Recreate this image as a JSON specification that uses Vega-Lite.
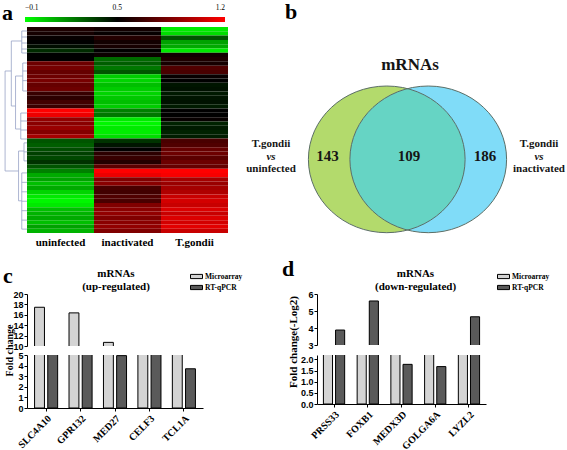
{
  "$schema": "https://vega.github.io/schema/vega-lite/v6.json",
  "padding": {"left": 2, "top": 0, "right": 0, "bottom": 0},
  "background": "white",
  "bounds": "flush",
  "columns": 2,
  "spacing": {"row": 9, "column": 89},
  "config": {
    "view": {"stroke": null},
    "font": "Liberation Serif",
    "axis": {"domainColor": "black", "domainWidth": 1, "tickColor": "black", "labelColor": "black", "titleColor": "black", "grid": false},
    "title": {"font": "Liberation Serif", "fontWeight": "bold", "color": "black"},
    "legend": {"padding": 0}
  },
  "resolve": {
    "scale": {"color": "independent", "fill": "independent", "shape": "independent", "xOffset": "independent"},
    "legend": {"color": "independent", "fill": "independent", "shape": "independent"}
  },
  "datasets": {
    "heat": [
      {"r":0,"g":"uninfected","v":0.58},{"r":0,"g":"inactivated","v":0.55},{"r":0,"g":"T.gondii","v":-0.05},
      {"r":1,"g":"uninfected","v":0.56},{"r":1,"g":"inactivated","v":0.52},{"r":1,"g":"T.gondii","v":-0.02},
      {"r":2,"g":"uninfected","v":0.52},{"r":2,"g":"inactivated","v":0.6},{"r":2,"g":"T.gondii","v":0.3},
      {"r":3,"g":"uninfected","v":0.5},{"r":3,"g":"inactivated","v":0.55},{"r":3,"g":"T.gondii","v":0.12},
      {"r":4,"g":"uninfected","v":0.47},{"r":4,"g":"inactivated","v":0.56},{"r":4,"g":"T.gondii","v":0.1},
      {"r":5,"g":"uninfected","v":0.4},{"r":5,"g":"inactivated","v":0.5},{"r":5,"g":"T.gondii","v":-0.05},
      {"r":6,"g":"uninfected","v":0.5},{"r":6,"g":"inactivated","v":0.53},{"r":6,"g":"T.gondii","v":0.55},
      {"r":7,"g":"uninfected","v":0.5},{"r":7,"g":"inactivated","v":0.25},{"r":7,"g":"T.gondii","v":0.58},
      {"r":8,"g":"uninfected","v":0.8},{"r":8,"g":"inactivated","v":0.28},{"r":8,"g":"T.gondii","v":0.56},
      {"r":9,"g":"uninfected","v":0.82},{"r":9,"g":"inactivated","v":0.22},{"r":9,"g":"T.gondii","v":0.72},
      {"r":10,"g":"uninfected","v":0.78},{"r":10,"g":"inactivated","v":0.3},{"r":10,"g":"T.gondii","v":0.7},
      {"r":11,"g":"uninfected","v":0.8},{"r":11,"g":"inactivated","v":0.02},{"r":11,"g":"T.gondii","v":0.52},
      {"r":12,"g":"uninfected","v":0.83},{"r":12,"g":"inactivated","v":0.0},{"r":12,"g":"T.gondii","v":0.5},
      {"r":13,"g":"uninfected","v":0.78},{"r":13,"g":"inactivated","v":0.05},{"r":13,"g":"T.gondii","v":0.45},
      {"r":14,"g":"uninfected","v":0.8},{"r":14,"g":"inactivated","v":0.02},{"r":14,"g":"T.gondii","v":0.46},
      {"r":15,"g":"uninfected","v":0.65},{"r":15,"g":"inactivated","v":0.0},{"r":15,"g":"T.gondii","v":0.44},
      {"r":16,"g":"uninfected","v":0.62},{"r":16,"g":"inactivated","v":0.03},{"r":16,"g":"T.gondii","v":0.45},
      {"r":17,"g":"uninfected","v":0.68},{"r":17,"g":"inactivated","v":0.05},{"r":17,"g":"T.gondii","v":0.46},
      {"r":18,"g":"uninfected","v":0.66},{"r":18,"g":"inactivated","v":0.02},{"r":18,"g":"T.gondii","v":0.44},
      {"r":19,"g":"uninfected","v":1.2},{"r":19,"g":"inactivated","v":0.2},{"r":19,"g":"T.gondii","v":0.5},
      {"r":20,"g":"uninfected","v":1.15},{"r":20,"g":"inactivated","v":0.22},{"r":20,"g":"T.gondii","v":0.5},
      {"r":21,"g":"uninfected","v":0.9},{"r":21,"g":"inactivated","v":-0.05},{"r":21,"g":"T.gondii","v":0.52},
      {"r":22,"g":"uninfected","v":0.88},{"r":22,"g":"inactivated","v":-0.08},{"r":22,"g":"T.gondii","v":0.42},
      {"r":23,"g":"uninfected","v":0.92},{"r":23,"g":"inactivated","v":-0.05},{"r":23,"g":"T.gondii","v":0.44},
      {"r":24,"g":"uninfected","v":0.86},{"r":24,"g":"inactivated","v":-0.06},{"r":24,"g":"T.gondii","v":0.42},
      {"r":25,"g":"uninfected","v":0.95},{"r":25,"g":"inactivated","v":-0.02},{"r":25,"g":"T.gondii","v":0.43},
      {"r":26,"g":"uninfected","v":0.3},{"r":26,"g":"inactivated","v":0.38},{"r":26,"g":"T.gondii","v":0.7},
      {"r":27,"g":"uninfected","v":0.28},{"r":27,"g":"inactivated","v":0.45},{"r":27,"g":"T.gondii","v":0.72},
      {"r":28,"g":"uninfected","v":0.32},{"r":28,"g":"inactivated","v":0.5},{"r":28,"g":"T.gondii","v":0.78},
      {"r":29,"g":"uninfected","v":0.35},{"r":29,"g":"inactivated","v":0.62},{"r":29,"g":"T.gondii","v":0.8},
      {"r":30,"g":"uninfected","v":0.33},{"r":30,"g":"inactivated","v":0.65},{"r":30,"g":"T.gondii","v":0.75},
      {"r":31,"g":"uninfected","v":0.38},{"r":31,"g":"inactivated","v":0.6},{"r":31,"g":"T.gondii","v":0.8},
      {"r":32,"g":"uninfected","v":0.3},{"r":32,"g":"inactivated","v":0.75},{"r":32,"g":"T.gondii","v":0.78},
      {"r":33,"g":"uninfected","v":0.2},{"r":33,"g":"inactivated","v":1.2},{"r":33,"g":"T.gondii","v":1.2},
      {"r":34,"g":"uninfected","v":0.1},{"r":34,"g":"inactivated","v":1.15},{"r":34,"g":"T.gondii","v":1.18},
      {"r":35,"g":"uninfected","v":0.12},{"r":35,"g":"inactivated","v":0.85},{"r":35,"g":"T.gondii","v":0.95},
      {"r":36,"g":"uninfected","v":0.05},{"r":36,"g":"inactivated","v":0.88},{"r":36,"g":"T.gondii","v":0.92},
      {"r":37,"g":"uninfected","v":0.1},{"r":37,"g":"inactivated","v":0.7},{"r":37,"g":"T.gondii","v":0.95},
      {"r":38,"g":"uninfected","v":0.0},{"r":38,"g":"inactivated","v":0.68},{"r":38,"g":"T.gondii","v":0.98},
      {"r":39,"g":"uninfected","v":-0.05},{"r":39,"g":"inactivated","v":0.72},{"r":39,"g":"T.gondii","v":1.05},
      {"r":40,"g":"uninfected","v":-0.08},{"r":40,"g":"inactivated","v":0.7},{"r":40,"g":"T.gondii","v":1.08},
      {"r":41,"g":"uninfected","v":-0.05},{"r":41,"g":"inactivated","v":0.85},{"r":41,"g":"T.gondii","v":1.05},
      {"r":42,"g":"uninfected","v":0.05},{"r":42,"g":"inactivated","v":0.88},{"r":42,"g":"T.gondii","v":1.1},
      {"r":43,"g":"uninfected","v":0.08},{"r":43,"g":"inactivated","v":0.9},{"r":43,"g":"T.gondii","v":1.05},
      {"r":44,"g":"uninfected","v":0.1},{"r":44,"g":"inactivated","v":0.85},{"r":44,"g":"T.gondii","v":1.1},
      {"r":45,"g":"uninfected","v":0.05},{"r":45,"g":"inactivated","v":0.88},{"r":45,"g":"T.gondii","v":1.08},
      {"r":46,"g":"uninfected","v":0.12},{"r":46,"g":"inactivated","v":0.9},{"r":46,"g":"T.gondii","v":1.12},
      {"r":47,"g":"uninfected","v":0.08},{"r":47,"g":"inactivated","v":0.85},{"r":47,"g":"T.gondii","v":1.05}
    ],
    "dendro": [
      {"x1":-1.09,"x2":-1.09,"y1":10.25,"y2":33.55},
      {"x1":-1.09,"x2":-0.78,"y1":10.25,"y2":10.25},
      {"x1":-1.09,"x2":-0.42,"y1":33.55,"y2":33.55},
      {"x1":-0.78,"x2":-0.78,"y1":3.26,"y2":18.41},
      {"x1":-0.78,"x2":-0.26,"y1":3.26,"y2":3.26},
      {"x1":-0.78,"x2":-0.57,"y1":18.41,"y2":18.41},
      {"x1":-0.26,"x2":-0.26,"y1":0.93,"y2":6.06},
      {"x1":-0.57,"x2":-0.57,"y1":11.42,"y2":23.77},
      {"x1":-0.57,"x2":-0.21,"y1":11.42,"y2":11.42},
      {"x1":-0.57,"x2":-0.31,"y1":23.77,"y2":23.77},
      {"x1":-0.21,"x2":-0.21,"y1":8.39,"y2":14.91},
      {"x1":-0.31,"x2":-0.31,"y1":20.04,"y2":26.1},
      {"x1":-0.42,"x2":-0.42,"y1":28.9,"y2":40.5},
      {"x1":-0.42,"x2":-0.15,"y1":28.9,"y2":28.9},
      {"x1":-0.42,"x2":-0.26,"y1":40.5,"y2":40.5},
      {"x1":-0.15,"x2":-0.15,"y1":27.0,"y2":31.2},
      {"x1":-0.26,"x2":-0.26,"y1":34.0,"y2":47.1},
      {"x1":-0.26,"x2":0,"y1":0.93,"y2":0.93},
      {"x1":-0.26,"x2":0,"y1":2.33,"y2":2.33},
      {"x1":-0.26,"x2":0,"y1":3.73,"y2":3.73},
      {"x1":-0.26,"x2":0,"y1":5.13,"y2":5.13},
      {"x1":-0.26,"x2":0,"y1":6.06,"y2":6.06},
      {"x1":-0.21,"x2":0,"y1":8.39,"y2":8.39},
      {"x1":-0.21,"x2":0,"y1":10.25,"y2":10.25},
      {"x1":-0.21,"x2":0,"y1":12.5,"y2":12.5},
      {"x1":-0.21,"x2":0,"y1":14.91,"y2":14.91},
      {"x1":-0.31,"x2":0,"y1":20.04,"y2":20.04},
      {"x1":-0.31,"x2":0,"y1":21.9,"y2":21.9},
      {"x1":-0.31,"x2":0,"y1":24.0,"y2":24.0},
      {"x1":-0.31,"x2":0,"y1":26.1,"y2":26.1},
      {"x1":-0.15,"x2":0,"y1":27.0,"y2":27.0},
      {"x1":-0.15,"x2":0,"y1":29.1,"y2":29.1},
      {"x1":-0.15,"x2":0,"y1":31.2,"y2":31.2},
      {"x1":-0.26,"x2":0,"y1":34.0,"y2":34.0},
      {"x1":-0.26,"x2":0,"y1":36.2,"y2":36.2},
      {"x1":-0.26,"x2":0,"y1":38.4,"y2":38.4},
      {"x1":-0.26,"x2":0,"y1":40.6,"y2":40.6},
      {"x1":-0.26,"x2":0,"y1":42.8,"y2":42.8},
      {"x1":-0.26,"x2":0,"y1":45.0,"y2":45.0},
      {"x1":-0.26,"x2":0,"y1":47.1,"y2":47.1}
    ],
    "venn": [
      {"part":"left","x":2.79,"y":4.87},
      {"part":"right","x":4.45,"y":4.87},
      {"part":"lens","x":3.62,"y":4.87}
    ],
    "vennNum": [
      {"t":"143","x":0.42,"y":5.0},
      {"t":"109","x":3.68,"y":5.0},
      {"t":"186","x":6.72,"y":5.0}
    ],
    "vennLab": [
      {"t":"T.gondii","x":-1.84,"y":5.45},
      {"t":"uninfected","x":-1.84,"y":4.5},
      {"t":"T.gondii","x":8.88,"y":5.45},
      {"t":"inactivated","x":8.88,"y":4.5}
    ],
    "vennVs": [
      {"t":"vs","x":-1.84,"y":4.98},
      {"t":"vs","x":8.88,"y":4.98}
    ],
    "vennTitle": [
      {"t":"mRNAs","x":3.72,"y":8.53}
    ],
    "cdata": [
      {"gene":"SLC4A10","method":"Microarray","value":17.45},
      {"gene":"SLC4A10","method":"RT-qPCR","value":6.2},
      {"gene":"GPR132","method":"Microarray","value":16.37},
      {"gene":"GPR132","method":"RT-qPCR","value":5.9},
      {"gene":"MED27","method":"Microarray","value":10.7},
      {"gene":"MED27","method":"RT-qPCR","value":4.94},
      {"gene":"CELF3","method":"Microarray","value":8.3},
      {"gene":"CELF3","method":"RT-qPCR","value":6.5},
      {"gene":"TCL1A","method":"Microarray","value":7.6},
      {"gene":"TCL1A","method":"RT-qPCR","value":3.7}
    ],
    "ddata": [
      {"gene":"PRSS33","method":"Microarray","value":2.6},
      {"gene":"PRSS33","method":"RT-qPCR","value":3.88},
      {"gene":"FOXB1","method":"Microarray","value":2.7},
      {"gene":"FOXB1","method":"RT-qPCR","value":5.59},
      {"gene":"MEDX3D","method":"Microarray","value":2.5},
      {"gene":"MEDX3D","method":"RT-qPCR","value":1.78},
      {"gene":"GOLGA6A","method":"Microarray","value":2.6},
      {"gene":"GOLGA6A","method":"RT-qPCR","value":1.68},
      {"gene":"LYZL2","method":"Microarray","value":2.5},
      {"gene":"LYZL2","method":"RT-qPCR","value":4.66}
    ]
  },
  "concat": [
    {
      "width": 201,
      "height": 206,
      "title": {"text": "a", "anchor": "start", "frame": "group", "dx": -25, "fontSize": 22, "baseline": "alphabetic", "offset": -24.5},
      "resolve": {"scale": {"x": "independent", "y": "independent"}},
      "layer": [
        {
          "data": {"name": "heat"},
          "mark": {"type": "rect"},
          "encoding": {
            "x": {"field": "g", "type": "nominal", "sort": ["uninfected", "inactivated", "T.gondii"], "scale": {"paddingInner": 0, "paddingOuter": 0},
                  "axis": {"title": null, "orient": "bottom", "ticks": false, "domain": false, "labelAngle": 0, "labelFont": "Liberation Serif", "labelFontWeight": "bold", "labelFontSize": 11, "labelPadding": 3}},
            "y": {"field": "r", "type": "ordinal", "scale": {"paddingInner": 0, "paddingOuter": 0}, "axis": null},
            "color": {"field": "v", "type": "quantitative",
                      "scale": {"domain": [-0.1, 0.5, 1.2], "range": ["#00ff00", "#000000", "#ff0000"], "interpolate": "rgb", "clamp": true},
                      "legend": {"type": "gradient", "orient": "none", "legendX": -2, "legendY": -10, "direction": "horizontal", "gradientLength": 200, "gradientThickness": 5, "gradientStrokeWidth": 0, "title": null, "values": [-0.1, 0.5, 1.2], "labelOffset": -18, "labelFont": "Liberation Serif", "labelFontSize": 7.5, "labelColor": "black"}}
          }
        },
        {
          "data": {"name": "dendro"},
          "mark": {"type": "rule", "color": "#98a3c6", "strokeWidth": 0.8},
          "encoding": {
            "x": {"field": "x1", "type": "quantitative", "scale": {"domain": [0, 10]}, "axis": null},
            "x2": {"field": "x2"},
            "y": {"field": "y1", "type": "quantitative", "scale": {"domain": [0, 48], "reverse": true}, "axis": null},
            "y2": {"field": "y2"}
          }
        }
      ]
    },
    {
      "width": 250,
      "height": 258,
      "title": {"text": "b", "anchor": "start", "frame": "group", "dx": -32, "fontSize": 22, "baseline": "alphabetic", "offset": -13.5},
      "layer": [
        {
          "data": {"name": "venn"},
          "mark": {"type": "point", "filled": true, "opacity": 1, "strokeWidth": 0, "size": 24555},
          "encoding": {
            "x": {"field": "x", "type": "quantitative", "scale": {"domain": [0, 10]}, "axis": null},
            "y": {"field": "y", "type": "quantitative", "scale": {"domain": [0, 10]}, "axis": null},
            "shape": {"field": "part", "type": "nominal", "scale": {"domain": ["left", "right", "lens"], "range": ["M-1,0A1,0.936 0 1,1 1,0A1,0.936 0 1,1 -1,0Z", "M-1,0A1,0.936 0 1,1 1,0A1,0.936 0 1,1 -1,0Z", "M0,-0.902A1,0.936 0 0,1 0,0.902A1,0.936 0 0,1 0,-0.902Z"]}, "legend": null},
            "fill": {"field": "part", "type": "nominal", "scale": {"domain": ["left", "right", "lens"], "range": ["#b3da6c", "#80dcf8", "#66d4c4"]}, "legend": null}
          }
        },
        {
          "data": {"name": "venn"},
          "transform": [{"filter": "datum.part !== 'lens'"}],
          "mark": {"type": "point", "filled": false, "opacity": 1, "shape": "M-1,0A1,0.936 0 1,1 1,0A1,0.936 0 1,1 -1,0Z", "size": 24555, "stroke": "#5b6e66", "strokeWidth": 1},
          "encoding": {
            "x": {"field": "x", "type": "quantitative", "scale": {"domain": [0, 10]}, "axis": null},
            "y": {"field": "y", "type": "quantitative", "scale": {"domain": [0, 10]}, "axis": null}
          }
        },
        {
          "data": {"name": "vennNum"},
          "mark": {"type": "text", "font": "Liberation Serif", "fontWeight": "bold", "fontSize": 15, "baseline": "middle", "align": "center", "color": "#151515"},
          "encoding": {
            "x": {"field": "x", "type": "quantitative", "scale": {"domain": [0, 10]}, "axis": null},
            "y": {"field": "y", "type": "quantitative", "scale": {"domain": [0, 10]}, "axis": null},
            "text": {"field": "t"}
          }
        },
        {
          "data": {"name": "vennLab"},
          "mark": {"type": "text", "font": "Liberation Serif", "fontWeight": "bold", "fontSize": 11, "baseline": "middle", "align": "center", "color": "#151515"},
          "encoding": {
            "x": {"field": "x", "type": "quantitative", "scale": {"domain": [0, 10]}, "axis": null},
            "y": {"field": "y", "type": "quantitative", "scale": {"domain": [0, 10]}, "axis": null},
            "text": {"field": "t"}
          }
        },
        {
          "data": {"name": "vennVs"},
          "mark": {"type": "text", "font": "Liberation Serif", "fontWeight": "bold", "fontStyle": "italic", "fontSize": 11, "baseline": "middle", "align": "center", "color": "#151515"},
          "encoding": {
            "x": {"field": "x", "type": "quantitative", "scale": {"domain": [0, 10]}, "axis": null},
            "y": {"field": "y", "type": "quantitative", "scale": {"domain": [0, 10]}, "axis": null},
            "text": {"field": "t"}
          }
        },
        {
          "data": {"name": "vennTitle"},
          "mark": {"type": "text", "font": "Liberation Serif", "fontWeight": "bold", "fontSize": 17, "baseline": "middle", "align": "center", "color": "#151515"},
          "encoding": {
            "x": {"field": "x", "type": "quantitative", "scale": {"domain": [0, 10]}, "axis": null},
            "y": {"field": "y", "type": "quantitative", "scale": {"domain": [0, 10]}, "axis": null},
            "text": {"field": "t"}
          }
        }
      ]
    },
    {
      "width": 176,
      "height": 52,
      "title": {"text": ["mRNAs", "(up-regulated)"], "anchor": "middle", "frame": "group", "fontSize": 11, "lineHeight": 13, "baseline": "alphabetic", "offset": -31, "dx": 1},
      "data": {"name": "cdata"},
      "mark": {"type": "bar", "clip": true, "stroke": "black", "strokeWidth": 1},
      "encoding": {
        "x": {"field": "gene", "type": "nominal", "sort": null, "scale": {"paddingInner": 0.33, "paddingOuter": 0.22}, "axis": null},
        "xOffset": {"field": "method", "type": "nominal", "sort": ["Microarray", "RT-qPCR"], "scale": {"paddingInner": 0.25, "paddingOuter": 0}},
        "y": {"field": "value", "type": "quantitative", "scale": {"domain": [10, 20], "nice": false, "zero": false},
              "axis": {"values": [10, 12, 14, 16, 18, 20], "title": null, "tickSize": 3, "labelFont": "Liberation Sans", "labelFontWeight": "bold", "labelFontSize": 9, "labelPadding": 1}},
        "fill": {"field": "method", "type": "nominal", "sort": ["Microarray", "RT-qPCR"], "scale": {"domain": ["Microarray", "RT-qPCR"], "range": ["#d4d4d4", "#5a5a5a"]},
                 "legend": {"orient": "none", "legendX": 163, "legendY": -24, "title": null, "symbolType": "M-1,-0.35H1V0.35H-1Z", "symbolSize": 144, "symbolStrokeColor": "black", "symbolStrokeWidth": 1, "labelFont": "Liberation Serif", "labelFontWeight": "bold", "labelFontSize": 7.5, "labelColor": "black", "labelOffset": 2, "rowPadding": 0}}
      }
    },
    {
      "width": 169,
      "height": 51,
      "title": {"text": ["mRNAs", "(down-regulated)"], "anchor": "middle", "frame": "group", "fontSize": 11, "lineHeight": 13, "baseline": "alphabetic", "offset": -31, "dx": 14},
      "data": {"name": "ddata"},
      "mark": {"type": "bar", "clip": true, "stroke": "black", "strokeWidth": 1},
      "encoding": {
        "x": {"field": "gene", "type": "nominal", "sort": null, "scale": {"paddingInner": 0.37, "paddingOuter": 0.19}, "axis": null},
        "xOffset": {"field": "method", "type": "nominal", "sort": ["Microarray", "RT-qPCR"], "scale": {"paddingInner": 0.25, "paddingOuter": 0}},
        "y": {"field": "value", "type": "quantitative", "scale": {"domain": [3, 6], "nice": false, "zero": false},
              "axis": {"values": [3, 4, 5, 6], "title": null, "tickSize": 3, "labelFont": "Liberation Sans", "labelFontWeight": "bold", "labelFontSize": 9, "labelPadding": 1}},
        "fill": {"field": "method", "type": "nominal", "sort": ["Microarray", "RT-qPCR"], "scale": {"domain": ["Microarray", "RT-qPCR"], "range": ["#d4d4d4", "#5a5a5a"]},
                 "legend": {"orient": "none", "legendX": 180, "legendY": -24, "title": null, "symbolType": "M-1,-0.35H1V0.35H-1Z", "symbolSize": 144, "symbolStrokeColor": "black", "symbolStrokeWidth": 1, "labelFont": "Liberation Serif", "labelFontWeight": "bold", "labelFontSize": 7.5, "labelColor": "black", "labelOffset": 2, "rowPadding": 0}}
      }
    },
    {
      "width": 176,
      "height": 53,
      "title": {"text": "c", "anchor": "start", "frame": "group", "dx": -24, "fontSize": 22, "baseline": "alphabetic", "offset": 19},
      "data": {"name": "cdata"},
      "mark": {"type": "bar", "clip": true, "stroke": "black", "strokeWidth": 1},
      "encoding": {
        "x": {"field": "gene", "type": "nominal", "sort": null, "scale": {"paddingInner": 0.33, "paddingOuter": 0.22},
              "axis": {"title": null, "labelAngle": -45, "labelFont": "Liberation Serif", "labelFontWeight": "bold", "labelFontSize": 10, "tickSize": 3, "labelPadding": 2}},
        "xOffset": {"field": "method", "type": "nominal", "sort": ["Microarray", "RT-qPCR"], "scale": {"paddingInner": 0.25, "paddingOuter": 0}},
        "y": {"field": "value", "type": "quantitative", "scale": {"domain": [0, 5], "nice": false},
              "axis": {"values": [0, 1, 2, 3, 4, 5], "title": "Fold change", "titleFont": "Liberation Serif", "titleFontWeight": "bold", "titleFontSize": 10, "titleX": -13, "titleY": -5, "tickSize": 3, "labelFont": "Liberation Sans", "labelFontWeight": "bold", "labelFontSize": 9, "labelPadding": 1}},
        "fill": {"field": "method", "type": "nominal", "sort": ["Microarray", "RT-qPCR"], "scale": {"domain": ["Microarray", "RT-qPCR"], "range": ["#d4d4d4", "#5a5a5a"]}, "legend": null}
      }
    },
    {
      "width": 169,
      "height": 49,
      "title": {"text": "d", "anchor": "start", "frame": "group", "dx": -35, "fontSize": 22, "baseline": "alphabetic", "offset": -2},
      "data": {"name": "ddata"},
      "mark": {"type": "bar", "clip": true, "stroke": "black", "strokeWidth": 1},
      "encoding": {
        "x": {"field": "gene", "type": "nominal", "sort": null, "scale": {"paddingInner": 0.37, "paddingOuter": 0.19},
              "axis": {"title": null, "labelAngle": -45, "labelFont": "Liberation Serif", "labelFontWeight": "bold", "labelFontSize": 10, "tickSize": 3, "labelPadding": 2}},
        "xOffset": {"field": "method", "type": "nominal", "sort": ["Microarray", "RT-qPCR"], "scale": {"paddingInner": 0.25, "paddingOuter": 0}},
        "y": {"field": "value", "type": "quantitative", "scale": {"domain": [0, 2.2], "nice": false},
              "axis": {"values": [0, 0.5, 1, 1.5, 2], "format": ".1f", "title": "Fold change(-Log2)", "titleFont": "Liberation Serif", "titleFontWeight": "bold", "titleFontSize": 11, "titleX": -19, "titleY": -13.5, "tickSize": 3, "labelFont": "Liberation Sans", "labelFontWeight": "bold", "labelFontSize": 9, "labelPadding": 1}},
        "fill": {"field": "method", "type": "nominal", "sort": ["Microarray", "RT-qPCR"], "scale": {"domain": ["Microarray", "RT-qPCR"], "range": ["#d4d4d4", "#5a5a5a"]}, "legend": null}
      }
    }
  ]
}
